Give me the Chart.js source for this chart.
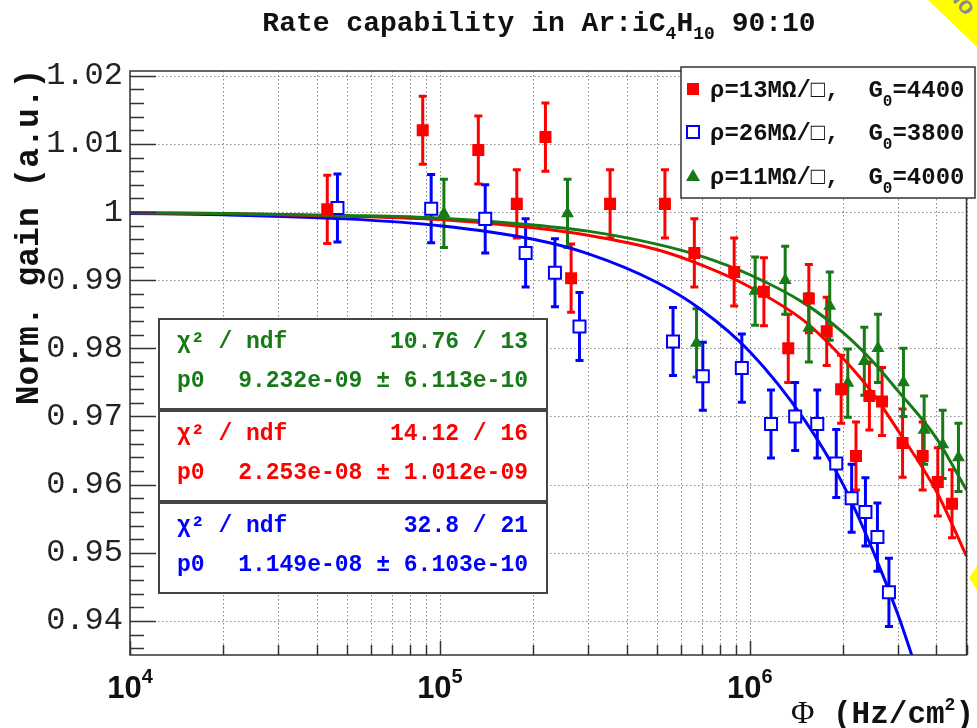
<!DOCTYPE html>
<html>
<head>
<meta charset="utf-8">
<script src="https://cdn.jsdelivr.net/npm/chart.js@4.4.0/dist/chart.umd.min.js"></script>
<style>
  html, body { margin: 0; background: #fff; }
  #wrap { width: 977px; height: 728px; }
</style>
</head>
<body>
<div id="wrap"><canvas id="grafica"></canvas></div>
<script>
// Datos (flujo en Hz/cm2, ganancia normalizada)
const redPhi  = [4.33e4, 8.8e4, 1.33e5, 1.77e5, 2.19e5, 2.65e5, 3.54e5, 5.32e5, 6.62e5, 8.9e5, 1.11e6,
                 1.33e6, 1.55e6, 1.77e6, 1.97e6, 2.2e6, 2.43e6, 2.67e6, 3.11e6, 3.61e6, 4.04e6, 4.49e6];
const redGain = [1.0004, 1.012, 1.0091, 1.0012, 1.011, 0.9903, 1.0012, 1.0012, 0.994, 0.9912, 0.9883,
                 0.980, 0.9873, 0.9825, 0.974, 0.9642, 0.973, 0.9722, 0.9661, 0.9642, 0.9604, 0.9572];
const redErr  = [0.005, 0.005, 0.005, 0.005, 0.005, 0.005, 0.005, 0.005, 0.005, 0.005, 0.005,
                 0.005, 0.005, 0.005, 0.005, 0.005, 0.005, 0.005, 0.005, 0.005, 0.005, 0.005];

const bluePhi  = [4.67e4, 9.37e4, 1.40e5, 1.89e5, 2.35e5, 2.82e5, 5.65e5, 7.05e5, 9.42e5, 1.17e6,
                  1.40e6, 1.65e6, 1.90e6, 2.13e6, 2.36e6, 2.58e6, 2.81e6];
const blueGain = [1.0006, 1.0005, 0.999, 0.994, 0.9911, 0.9832, 0.981, 0.9759, 0.9771, 0.9689,
                  0.970, 0.9689, 0.9631, 0.958, 0.956, 0.9523, 0.9442];
const blueErr  = [0.005, 0.005, 0.005, 0.005, 0.005, 0.005, 0.005, 0.005, 0.005, 0.005,
                  0.005, 0.005, 0.005, 0.005, 0.005, 0.005, 0.005];

const greenPhi  = [1.03e5, 2.58e5, 6.73e5, 1.04e6, 1.30e6, 1.55e6, 1.81e6, 2.07e6, 2.34e6, 2.59e6,
                   3.13e6, 3.65e6, 4.19e6, 4.71e6];
const greenGain = [0.9998, 0.9998, 0.9808, 0.9884, 0.990, 0.983, 0.9862, 0.9749, 0.9781, 0.980,
                   0.975, 0.968, 0.9659, 0.964];
const greenErr  = [0.005, 0.005, 0.005, 0.005, 0.005, 0.005, 0.005, 0.005, 0.005, 0.005,
                   0.005, 0.005, 0.005, 0.005];

// Curvas de ajuste, muestreadas de la figura
const fitPhi      = [1e4, 2e4, 5e4, 1e5, 2e5, 3e5, 5e5, 7e5, 1e6, 1.5e6, 2e6, 2.5e6, 3e6, 4e6, 5e6];
const redFit      = [0.9999, 0.9998, 0.9994, 0.9989, 0.9977, 0.9966, 0.9945, 0.9922, 0.9890, 0.9840,
                     0.9785, 0.9733, 0.9680, 0.9590, 0.9495];
const greenFit    = [0.9999, 0.9998, 0.9995, 0.9991, 0.9981, 0.9972, 0.9953, 0.9935, 0.9908, 0.9866,
                     0.9823, 0.9780, 0.9738, 0.9668, 0.9592];
const blueFitPhi  = [1e4, 2e4, 5e4, 1e5, 2e5, 3e5, 5e5, 7e5, 1e6, 1.5e6, 2e6, 2.5e6, 3e6, 3.5e6];
const blueFit     = [0.9998, 0.9996, 0.9990, 0.9980, 0.9960, 0.9939, 0.9897, 0.9856, 0.9795, 0.9695,
                     0.9600, 0.9502, 0.9410, 0.9320];

// Ejes
const yTickVals   = [0.94, 0.95, 0.96, 0.97, 0.98, 0.99, 1.00, 1.01, 1.02];
const yTickLabels = ['0.94', '0.95', '0.96', '0.97', '0.98', '0.99', '1', '1.01', '1.02'];
const xDecades    = [1e4, 1e5, 1e6];
const xTickExps   = ['4', '5', '6'];

const legendLabels = [
  ['ρ=13MΩ/□,  G', '0', '=4400'],
  ['ρ=26MΩ/□,  G', '0', '=3800'],
  ['ρ=11MΩ/□,  G', '0', '=4000']
];
const statChi = ['10.76 / 13', '14.12 / 16', '32.8 / 21'];
const statP0  = ['9.232e-09 ± 6.113e-10', '2.253e-08 ± 1.012e-09', '1.149e-08 ± 6.103e-10'];

const RED = '#ff0000';
const BLUE = '#0000ff';
const GREEN = '#167a16';
const MONO = '"Liberation Mono", "DejaVu Sans Mono", monospace';

const pts = (xs, ys) => xs.map((x, i) => ({ x, y: ys[i] }));

function drawRuns(ctx, runs, x, y, align) {
  let w = 0;
  for (const r of runs) { ctx.font = r.font; w += ctx.measureText(r.t).width; }
  let cx = align === 'center' ? x - w / 2 : align === 'right' ? x - w : x;
  ctx.textAlign = 'left';
  ctx.textBaseline = 'alphabetic';
  for (const r of runs) {
    ctx.font = r.font;
    ctx.fillText(r.t, cx, y + (r.dy || 0));
    cx += ctx.measureText(r.t).width;
  }
}

function marker(ctx, style, color, x, y) {
  ctx.save();
  ctx.fillStyle = color; ctx.strokeStyle = color; ctx.lineWidth = 2;
  if (style === 'fill') {
    ctx.fillRect(x - 6, y - 6, 12, 12);
  } else if (style === 'open') {
    ctx.fillStyle = '#fff';
    ctx.fillRect(x - 6, y - 6, 12, 12);
    ctx.strokeRect(x - 6, y - 6, 12, 12);
  } else {
    ctx.beginPath();
    ctx.moveTo(x, y - 7); ctx.lineTo(x + 7, y + 5); ctx.lineTo(x - 7, y + 5);
    ctx.closePath(); ctx.fill();
  }
  ctx.restore();
}

function xGridVals() {
  const out = [];
  for (const d of xDecades) for (let k = 1; k <= 9; k++) if (d * k <= 5e6) out.push(d * k);
  return out;
}

const rootStyle = {
  id: 'rootStyle',
  beforeDatasetsDraw(chart) {
    const { ctx, chartArea: a, scales: { x, y } } = chart;
    ctx.save();
    // rejilla punteada
    ctx.strokeStyle = '#8a8a8a';
    ctx.lineWidth = 1;
    ctx.setLineDash([1.5, 2.5]);
    ctx.beginPath();
    for (const v of yTickVals) {
      const py = Math.round(y.getPixelForValue(v)) + 0.5;
      ctx.moveTo(a.left, py); ctx.lineTo(a.right, py);
    }
    for (const v of xGridVals()) {
      const px = Math.round(x.getPixelForValue(v)) + 0.5;
      ctx.moveTo(px, a.top); ctx.lineTo(px, a.bottom);
    }
    ctx.stroke();
    ctx.setLineDash([]);

    // barras de error
    ctx.beginPath();
    ctx.rect(a.left, a.top, a.width, a.height);
    ctx.clip();
    chart.data.datasets.forEach((ds, i) => {
      if (!ds.errors) return;
      const meta = chart.getDatasetMeta(i);
      ctx.strokeStyle = ds.borderColor;
      ctx.lineWidth = 3;
      meta.data.forEach((p, j) => {
        const v = ds.data[j].y, e = ds.errors[j];
        const y1 = y.getPixelForValue(v + e), y2 = y.getPixelForValue(v - e);
        ctx.beginPath();
        ctx.moveTo(p.x, y1); ctx.lineTo(p.x, y2);
        ctx.moveTo(p.x - 4, y1); ctx.lineTo(p.x + 4, y1);
        ctx.moveTo(p.x - 4, y2); ctx.lineTo(p.x + 4, y2);
        ctx.stroke();
      });
    });
    ctx.restore();
  },
  afterDatasetsDraw(chart) {
    const { ctx, chartArea: a, scales: { x, y } } = chart;
    ctx.save();
    ctx.strokeStyle = '#333';
    ctx.lineWidth = 1.5;
    ctx.beginPath();
    // marcas eje y
    for (let k = 0; k <= 43; k++) {
      const v = 0.936 + k * 0.002;
      if (v > 1.0205) break;
      const major = Math.abs(v * 100 - Math.round(v * 100)) < 1e-6;
      const py = Math.round(y.getPixelForValue(v)) + 0.5;
      ctx.moveTo(a.left, py); ctx.lineTo(a.left + (major ? 26 : 14), py);
    }
    // marcas eje x
    for (const v of xGridVals()) {
      const px = Math.round(x.getPixelForValue(v)) + 0.5;
      const major = xDecades.includes(v);
      ctx.moveTo(px, a.bottom); ctx.lineTo(px, a.bottom - (major ? 14 : 10));
    }
    ctx.stroke();
    ctx.strokeRect(a.left, a.top, a.width, a.height);
    ctx.restore();
  },
  afterDraw(chart) {
    const { ctx, scales: { x } } = chart;
    ctx.save();

    // detalles amarillos de la diapositiva
    ctx.fillStyle = '#ffff00';
    ctx.beginPath();
    ctx.moveTo(928, 0); ctx.lineTo(977, 0); ctx.lineTo(977, 47); ctx.closePath(); ctx.fill();
    ctx.beginPath();
    ctx.moveTo(977, 566); ctx.lineTo(969, 578); ctx.lineTo(977, 590); ctx.closePath(); ctx.fill();
    ctx.save();
    ctx.translate(952, 0);
    ctx.rotate(0.9);
    ctx.fillStyle = '#8a8a8a';
    ctx.font = 'bold 24px "Liberation Sans"';
    ctx.fillText('lo', 0, 0);
    ctx.restore();

    // titulo
    ctx.fillStyle = '#111';
    const big = `bold 28px ${MONO}`, sub = `bold 18px ${MONO}`;
    drawRuns(ctx, [
      { t: 'Rate capability in Ar:iC', font: big },
      { t: '4', font: sub, dy: 8 },
      { t: 'H', font: big },
      { t: '10', font: sub, dy: 8 },
      { t: ' 90:10', font: big }
    ], 539, 31, 'center');

    // etiquetas del eje x
    for (let i = 0; i < xDecades.length; i++) {
      drawRuns(ctx, [
        { t: '10', font: 'bold 31px "Liberation Sans"' },
        { t: xTickExps[i], font: 'bold 20px "Liberation Sans"', dy: -15 }
      ], x.getPixelForValue(xDecades[i]), 698, 'center');
    }

    // titulos de ejes
    drawRuns(ctx, [
      { t: 'Φ', font: '32px "Liberation Serif"' },
      { t: ' (Hz/cm', font: `bold 31px ${MONO}` },
      { t: '2', font: `bold 18px ${MONO}`, dy: -13 },
      { t: ')', font: `bold 31px ${MONO}` }
    ], 974, 723, 'right');
    ctx.save();
    ctx.translate(38, 237);
    ctx.rotate(-Math.PI / 2);
    drawRuns(ctx, [{ t: 'Norm. gain (a.u.)', font: `bold 33px ${MONO}` }], 0, 0, 'center');
    ctx.restore();

    // leyenda
    ctx.fillStyle = '#fff';
    ctx.fillRect(681, 67, 294, 131);
    ctx.strokeStyle = '#333';
    ctx.lineWidth = 1.5;
    ctx.strokeRect(681, 67, 294, 131);
    const rows = [89, 132, 176];
    const styles = [['fill', RED], ['open', BLUE], ['tri', GREEN]];
    rows.forEach((ry, i) => {
      marker(ctx, styles[i][0], styles[i][1], 693, ry);
      ctx.fillStyle = '#111';
      drawRuns(ctx, [
        { t: legendLabels[i][0], font: `bold 24px ${MONO}` },
        { t: legendLabels[i][1], font: `bold 16px ${MONO}`, dy: 9 },
        { t: legendLabels[i][2], font: `bold 24px ${MONO}` }
      ], 710, ry + 8, 'left');
    });

    // cajas de estadisticas
    const boxTops = [319, 411, 503];
    const boxColors = [GREEN, RED, BLUE];
    boxTops.forEach((top, i) => {
      ctx.fillStyle = '#fff';
      ctx.fillRect(159, top, 388, 90);
      ctx.strokeStyle = '#444';
      ctx.lineWidth = 2;
      ctx.strokeRect(159, top, 388, 90);
      ctx.fillStyle = boxColors[i];
      const f = `bold 23px ${MONO}`;
      drawRuns(ctx, [{ t: 'χ² / ndf', font: f }], 177, top + 29, 'left');
      drawRuns(ctx, [{ t: statChi[i], font: f }], 528, top + 29, 'right');
      drawRuns(ctx, [{ t: 'p0', font: f }], 177, top + 68, 'left');
      drawRuns(ctx, [{ t: statP0[i], font: f }], 528, top + 68, 'right');
    });
    ctx.restore();
  }
};

const fitLine = (label, data, color) => ({
  label, data, showLine: true, borderColor: color, borderWidth: 3,
  pointRadius: 0, cubicInterpolationMode: 'monotone', fill: false
});

new Chart(document.getElementById('grafica'), {
  type: 'scatter',
  data: {
    datasets: [
      { label: 'rojo', data: pts(redPhi, redGain), errors: redErr, borderColor: RED,
        backgroundColor: RED, pointStyle: 'rect', pointRadius: 8.5, borderWidth: 0 },
      { label: 'azul', data: pts(bluePhi, blueGain), errors: blueErr, borderColor: BLUE,
        backgroundColor: '#fff', pointStyle: 'rect', pointRadius: 8.5, borderWidth: 2 },
      { label: 'verde', data: pts(greenPhi, greenGain), errors: greenErr, borderColor: GREEN,
        backgroundColor: GREEN, pointStyle: 'triangle', pointRadius: 7.5, borderWidth: 0 },
      fitLine('ajuste verde', pts(fitPhi, greenFit), GREEN),
      fitLine('ajuste rojo', pts(fitPhi, redFit), RED),
      fitLine('ajuste azul', pts(blueFitPhi, blueFit), BLUE)
    ]
  },
  options: {
    responsive: true,
    maintainAspectRatio: false,
    animation: false,
    events: [],
    layout: { padding: { top: 71, right: 5, left: 0, bottom: 0 } },
    plugins: { legend: { display: false }, tooltip: { enabled: false } },
    scales: {
      x: {
        type: 'logarithmic', min: 1e4, max: 5e6,
        ticks: { display: false },
        grid: { display: false, drawTicks: false },
        border: { display: false },
        afterFit: s => { s.height = 73; }
      },
      y: {
        min: 0.935, max: 1.0207,
        afterBuildTicks: s => { s.ticks = yTickVals.map(v => ({ value: v })); },
        ticks: {
          autoSkip: false,
          padding: 7,
          color: '#222',
          font: { family: MONO, size: 32 },
          callback: (v, i) => yTickLabels[i]
        },
        grid: { display: false, drawTicks: false },
        border: { display: false },
        afterFit: s => { s.width = 130; }
      }
    }
  },
  plugins: [rootStyle]
});
</script>
</body>
</html>
